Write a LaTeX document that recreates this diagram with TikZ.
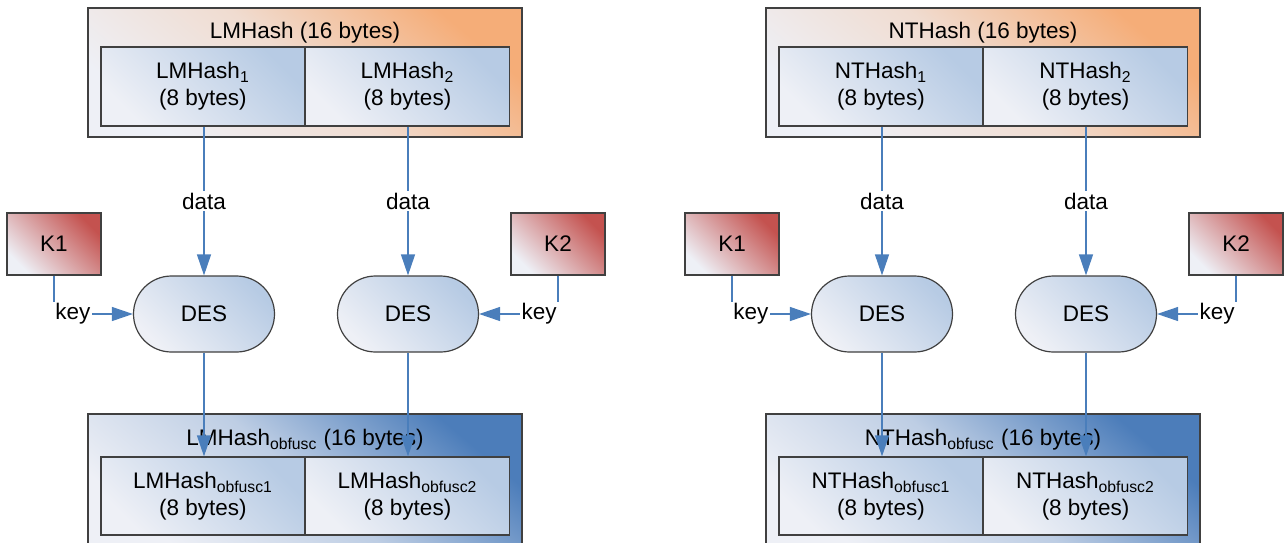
\documentclass[tikz,border=0pt]{standalone}
\usepackage{fontspec}
\setmainfont{Liberation Sans}
\usetikzlibrary{arrows.meta}
\definecolor{pale}{HTML}{EEF0F6}
\definecolor{peach}{HTML}{F5AD78}
\definecolor{sky}{HTML}{B7CBE4}
\definecolor{brick}{HTML}{C4524F}
\definecolor{obfblue}{HTML}{4C7DBA}
\definecolor{wire}{HTML}{4A7EBB}
\begin{document}
\begin{tikzpicture}[x=0.5pt,y=-0.5pt,font=\fontsize{11.25}{13.5}\selectfont,
  frame/.style={draw=black!75,line width=0.6pt,inner sep=0pt},
  hashbox/.style={frame,minimum width=217pt,minimum height=64.5pt,
    top color=peach,bottom color=pale,middle color=peach!30!pale,shading angle=-40},
  obfbox/.style={frame,minimum width=217pt,minimum height=66pt,
    top color=obfblue,bottom color=pale,middle color=obfblue!30!pale,shading angle=-40},
  half/.style={frame,minimum width=102pt,minimum height=39.5pt,align=center,
    top color=sky,bottom color=pale,shading angle=-45},
  keybox/.style={frame,minimum width=47pt,minimum height=31pt,
    top color=brick,bottom color=pale,middle color=brick!50!pale,shading angle=-45},
  des/.style={frame,minimum width=70.5pt,minimum height=38pt,rounded corners=19pt,
    top color=sky,bottom color=pale,shading angle=-45},
  flow/.style={draw=wire,line width=0.6pt,-{Triangle[length=10.5pt,width=7pt]}},
  tag/.style={fill=white,inner sep=1pt}]
\useasboundingbox (0,0) rectangle (1284,542);
% one group per hash: LM on the left, NT shifted by 678
\foreach \g/\dx/\h in {a/0/LM,b/678/NT} {
  % input hash and its two halves
  \node[hashbox] (top\g) at (\dx+305,72.5) {};
  \node (toptitle\g) at (\dx+305,33) {\h Hash (16 bytes)};
  \node[half] (in\g1) at (\dx+203,86.5) {\h Hash\textsubscript{1}\\(8 bytes)};
  \node[half] (in\g2) at (\dx+407.5,86.5) {\h Hash\textsubscript{2}\\(8 bytes)};
  % keys and DES boxes
  \node[keybox] (k\g1) at (\dx+54,244) {K1};
  \node[keybox] (k\g2) at (\dx+558,244) {K2};
  \node[des] (des\g1) at (\dx+204,314) {DES};
  \node[des] (des\g2) at (\dx+408,314) {DES};
  % obfuscated result
  \node[obfbox] (bot\g) at (\dx+305,480) {};
  \node (bottitle\g) at (\dx+305,440) {\h Hash\textsubscript{obfusc} (16 bytes)};
  \node[half,minimum height=39pt] (out\g1) at (\dx+203,496)
    {\h Hash\textsubscript{obfusc1}\\(8 bytes)};
  \node[half,minimum height=39pt] (out\g2) at (\dx+407.5,496)
    {\h Hash\textsubscript{obfusc2}\\(8 bytes)};
  % connectors
  \foreach \i in {1,2} {
    \draw[flow] (des\g\i.north |- in\g\i.south) -- (des\g\i.north)
      node[midway,tag] {data};
    \draw[flow] (des\g\i.south) -- (des\g\i.south |- out\g\i.north);
  }
  \draw[flow] (k\g1.south) |- (des\g1.west) node[pos=0.62,tag] {key};
  \draw[flow] (k\g2.south) |- (des\g2.east) node[pos=0.62,tag] {key};
}
\end{tikzpicture}
\end{document}
